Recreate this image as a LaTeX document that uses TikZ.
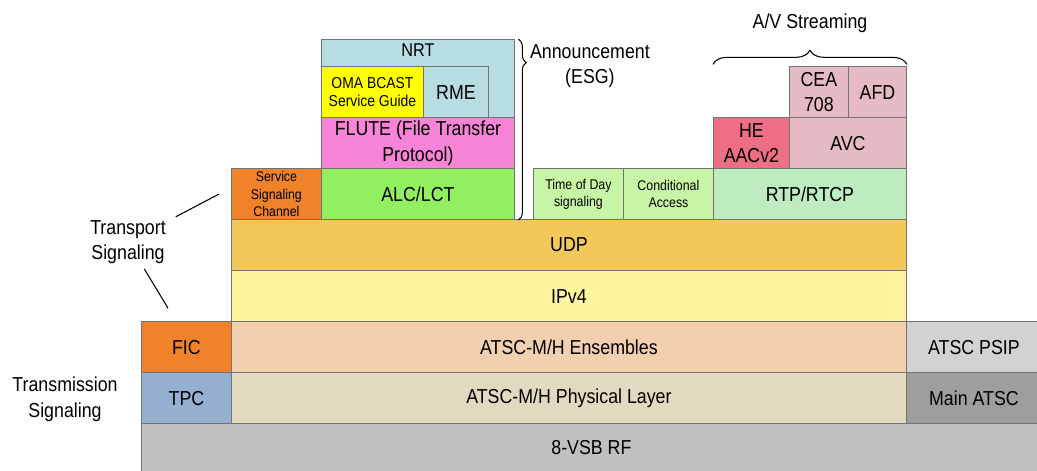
\documentclass[tikz,border=0pt]{standalone}
\usepackage{fontspec}
\setmainfont[FakeStretch=0.88]{Liberation Sans}
\usepackage{tikz}
\usetikzlibrary{decorations.pathreplacing, calc}
\definecolor{vsbgray}{HTML}{C0C0C0}
\definecolor{maingray}{HTML}{9E9E9E}
\definecolor{psipgray}{HTML}{D2D2D2}
\definecolor{tpcblue}{HTML}{95AFD0}
\definecolor{ficorange}{HTML}{F0822A}
\definecolor{physbeige}{HTML}{E2DAC0}
\definecolor{enspeach}{HTML}{F2CFAF}
\definecolor{ipyellow}{HTML}{FFF5A0}
\definecolor{udporange}{HTML}{F2C85A}
\definecolor{alcgreen}{HTML}{92F060}
\definecolor{flutepink}{HTML}{F784D6}
\definecolor{nrtcyan}{HTML}{B7DDE3}
\definecolor{omayellow}{HTML}{FFFF00}
\definecolor{todgreen}{HTML}{C8F5A5}
\definecolor{rtpgreen}{HTML}{BEEBC0}
\definecolor{heared}{HTML}{EE6E85}
\definecolor{avcpink}{HTML}{E5BAC5}
\newcommand{\lyrfont}{\fontsize{11.5}{14.5}\selectfont}
\newcommand{\lyrmid}{\fontsize{10.5}{12}\selectfont}
\newcommand{\lyrsmall}{\fontsize{9}{10.3}\selectfont}
\newcommand{\lyrtiny}{\fontsize{8}{9.8}\selectfont}

\begin{document}
\begin{tikzpicture}[
    blk/.style={rectangle, draw=black!55, fill=#1, line width=0.5pt,
                anchor=south west, minimum height=10.2mm, inner sep=1pt,
                align=center, font=\lyrfont},
    lbl/.style={align=center, font=\lyrfont, inner sep=1pt},
    lead/.style={draw=black, line width=0.6pt},
]
\useasboundingbox (0,0) rectangle (20.74,9.42);

% physical and link layers
\node[blk=vsbgray, minimum width=180mm, minimum height=11mm] (vsb) at (2.82,-0.08) {8-VSB RF};
\node[blk=tpcblue,   minimum width=18mm]  (tpc)  at (2.82,0.94)  {TPC};
\node[blk=physbeige, minimum width=135mm] (phy)  at (4.62,0.94)  {ATSC-M/H Physical Layer};
\node[blk=maingray,  minimum width=27mm]  (main) at (18.12,0.94) {Main ATSC};
\node[blk=ficorange, minimum width=18mm]  (fic)  at (2.82,1.96)  {FIC};
\node[blk=enspeach,  minimum width=135mm] (ens)  at (4.62,1.96)  {ATSC-M/H Ensembles};
\node[blk=psipgray,  minimum width=27mm]  (psip) at (18.12,1.96) {ATSC PSIP};

% network and transport
\node[blk=ipyellow,  minimum width=135mm] (ip)  at (4.62,2.98) {IPv4};
\node[blk=udporange, minimum width=135mm] (udp) at (4.62,4.00) {UDP};

% announcement stack
\node[blk=ficorange, minimum width=18mm, font=\lyrtiny] (ssc) at (4.62,5.02) {Service\\Signaling\\Channel};
\node[blk=alcgreen,  minimum width=38.6mm] (alc)   at (6.42,5.02) {ALC/LCT};
\node[blk=flutepink, minimum width=38.6mm] (flute) at (6.42,6.04) {FLUTE (File Transfer\\Protocol)};
\node[blk=nrtcyan,   minimum width=38.6mm, minimum height=15.6mm,
      label={[anchor=north, font=\lyrmid, inner sep=1pt, yshift=-1.5pt]north:NRT}] (nrt) at (6.42,7.06) {};
\node[blk=omayellow, minimum width=20.4mm, font=\lyrsmall] (oma) at (6.42,7.06) {OMA BCAST\\Service Guide};
\node[blk=nrtcyan,   minimum width=13mm] (rme) at (8.46,7.06) {RME};

% streaming stack
\node[blk=todgreen, minimum width=18mm, font=\lyrtiny] (tod) at (10.66,5.02) {Time of Day\\signaling};
\node[blk=todgreen, minimum width=18mm, font=\lyrtiny] (ca)  at (12.46,5.02) {Conditional\\Access};
\node[blk=rtpgreen, minimum width=38.6mm] (rtp) at (14.26,5.02) {RTP/RTCP};
\node[blk=heared,   minimum width=15.2mm] (hea) at (14.26,6.04) {HE\\AACv2};
\node[blk=avcpink,  minimum width=23.4mm] (avc) at (15.78,6.04) {AVC};
\node[blk=avcpink,  minimum width=11.8mm] (cea) at (15.78,7.06) {CEA\\708};
\node[blk=avcpink,  minimum width=11.6mm] (afd) at (16.96,7.06) {AFD};

% braces
\draw[decorate, decoration={brace, amplitude=4.5pt, aspect=0.13}, line width=0.6pt]
    ([xshift=2pt]nrt.north east) -- ([xshift=2pt]alc.south east);
\node[lbl, anchor=west] (ann) at (10.56,8.1) {Announcement\\(ESG)};
\draw[decorate, decoration={brace, amplitude=8pt}, line width=0.6pt]
    ([yshift=1pt]hea.west |- cea.north) -- ([yshift=1pt]afd.north east);
\node[lbl] (avs) at (16.2,8.96) {A/V Streaming};

% signaling labels
\node[lbl] (tsig) at (2.56,4.58) {Transport\\Signaling};
\node[lbl] (xsig) at (1.3,1.43)  {Transmission\\Signaling};
\draw[lead, shorten <=1.08cm] (tsig.center) -- ([xshift=-0.24cm]ssc.west);
\draw[lead, shorten <=0.63cm] (tsig.center) -- ([shift={(0.54,0.26)}]fic.north west);
\end{tikzpicture}
\end{document}
